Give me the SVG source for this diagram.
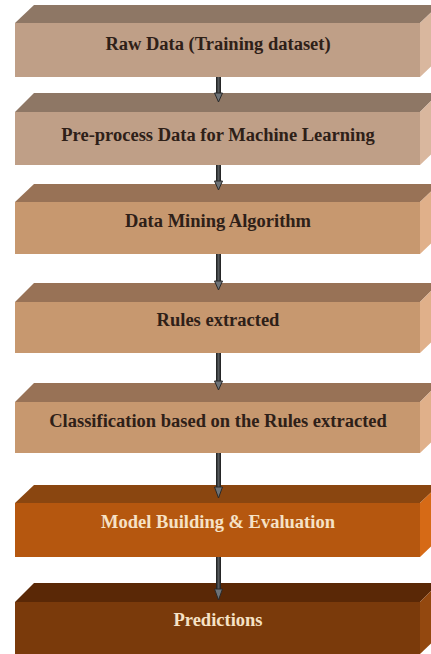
<svg xmlns="http://www.w3.org/2000/svg" width="431" height="654" viewBox="0 0 431 654">
<defs>
<style>
.t{font-family:"Liberation Serif","Times New Roman",serif;font-weight:bold;font-size:18.5px;text-anchor:middle}
.dk{fill:#2e2018}
.lt{fill:#f6e2c6}
.shaft{fill:url(#sg)}
.head{fill:#6d7378;stroke:#2a2a2a;stroke-width:1}
</style>
<linearGradient id="sg" x1="0" y1="0" x2="1" y2="0">
<stop offset="0" stop-color="#1a1a1a"/><stop offset="0.5" stop-color="#55595c"/><stop offset="1" stop-color="#1a1a1a"/>
</linearGradient>
</defs>
<rect width="431" height="654" fill="#ffffff"/>

<g id="n1">
<polygon points="15,23 34,5 439,5 420,23" fill="#8e7765"/>
<rect x="15" y="23" width="405" height="54" fill="#bf9f87"/>
<polygon points="420,23 439,5 439,59 420,77" fill="#d9b79e"/>
<text class="t dk" x="218" y="50">Raw Data (Training dataset)</text>
</g>
<g id="n2">
<polygon points="15,112 34,93 439,93 420,112" fill="#8e7765"/>
<rect x="15" y="112" width="405" height="53" fill="#bf9f87"/>
<polygon points="420,112 439,93 439,147 420,165" fill="#d9b79e"/>
<text class="t dk" x="218" y="141">Pre-process Data for Machine Learning</text>
</g>
<g id="n3">
<polygon points="15,202 34,184 439,184 420,202" fill="#987256"/>
<rect x="15" y="202" width="405" height="52" fill="#c7986f"/>
<polygon points="420,202 439,184 439,236 420,254" fill="#e0b08a"/>
<text class="t dk" x="218" y="227">Data Mining Algorithm</text>
</g>
<g id="n4">
<polygon points="15,302 34,283 439,283 420,302" fill="#987256"/>
<rect x="15" y="302" width="405" height="51" fill="#c7986f"/>
<polygon points="420,302 439,283 439,335 420,353" fill="#e0b08a"/>
<text class="t dk" x="218" y="326">Rules extracted</text>
</g>
<g id="n5">
<polygon points="15,402 34,383 439,383 420,402" fill="#987256"/>
<rect x="15" y="402" width="405" height="51" fill="#c7986f"/>
<polygon points="420,402 439,383 439,435 420,453" fill="#e0b08a"/>
<text class="t dk" x="218" y="427">Classification based on the Rules extracted</text>
</g>
<g id="n6">
<polygon points="15,503 34,485 439,485 420,503" fill="#8a4610"/>
<rect x="15" y="503" width="405" height="54" fill="#b5570f"/>
<polygon points="420,503 439,485 439,539 420,557" fill="#d66a16"/>
<text class="t lt" x="218" y="528">Model Building &amp; Evaluation</text>
</g>
<g id="n7">
<polygon points="15,602 34,583 439,583 420,602" fill="#5a2806"/>
<rect x="15" y="602" width="405" height="52" fill="#7a3a0b"/>
<polygon points="420,602 439,583 439,636 420,654" fill="#93480f"/>
<text class="t lt" x="218" y="626">Predictions</text>
</g>

<g id="connectors">
<rect class="shaft" x="216" y="77" width="5" height="17"/>
<polygon class="head" points="214.5,93 222.5,93 218.5,102"/>
<rect class="shaft" x="216" y="165" width="5" height="17"/>
<polygon class="head" points="214.5,181 222.5,181 218.5,190"/>
<rect class="shaft" x="216" y="254" width="5" height="28"/>
<polygon class="head" points="214.5,281 222.5,281 218.5,290"/>
<rect class="shaft" x="216" y="353" width="5" height="29"/>
<polygon class="head" points="214.5,381 222.5,381 218.5,390"/>
<rect class="shaft" x="216" y="453" width="5" height="35"/>
<polygon class="head" points="214.5,487 222.5,487 218.5,498"/>
<rect class="shaft" x="216" y="557" width="5" height="33"/>
<polygon class="head" points="214.5,589 222.5,589 218.5,600"/>
</g>
</svg>
